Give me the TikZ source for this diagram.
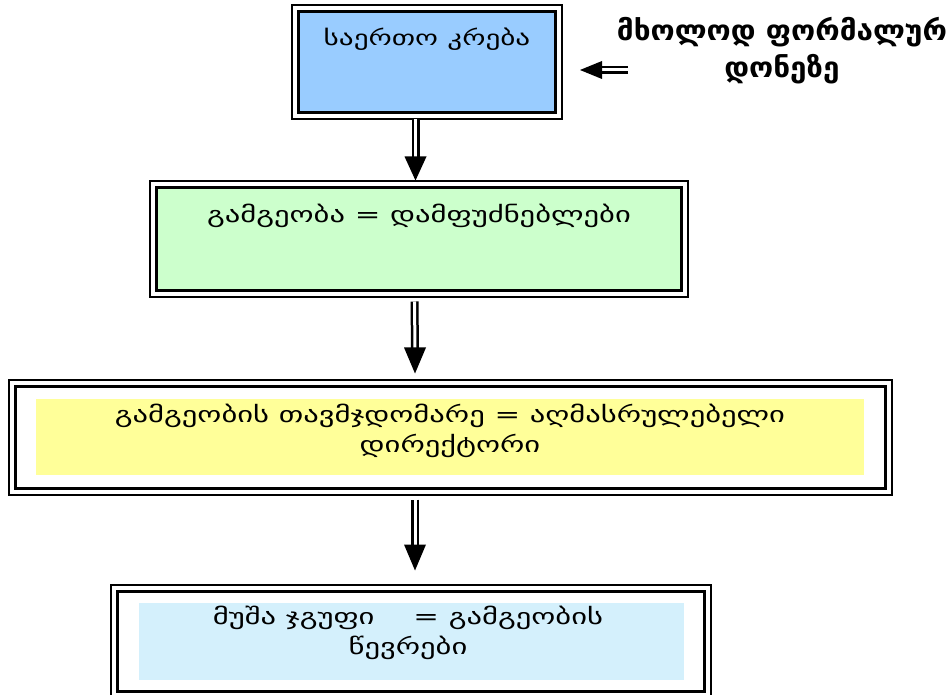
\documentclass[tikz,border=0pt]{standalone}
\usepackage{fontspec}
\setmainfont{DejaVu Sans}
\newfontfamily\geowide[FakeStretch=1.39]{DejaVu Sans}
\newfontfamily\geobold[FakeStretch=1.06]{DejaVu Sans}
\usetikzlibrary{calc}
\definecolor{bxblue}{HTML}{99CCFF}
\definecolor{bxgreen}{HTML}{CCFFCC}
\definecolor{bxyellow}{HTML}{FFFF99}
\definecolor{bxlight}{HTML}{D4F0FC}
\tikzset{
  inbox/.style={draw=black, line width=3pt, inner sep=0pt, minimum width=#1},
  outline/.style={draw=black, line width=2pt},
  txt/.style={font=\geowide\fontsize{22}{30}\selectfont, align=center, inner sep=0pt},
  rtxt/.style={font=\geobold\fontsize{28}{37}\selectfont\bfseries, align=center, inner sep=0pt},
  shaft/.style={draw=black, line width=2.5pt, double=white, double distance=3pt},
  headfill/.style={fill=black},
}
\begin{document}
\begin{tikzpicture}[x=1pt,y=-1pt]
\useasboundingbox (0,0) rectangle (946,695);
% box 1
\node[inbox=257pt, minimum height=101pt, fill=bxblue] (b1) at (426.5,62.5) {};
\draw[outline] ($(b1.north west)+(-5,-5)$) rectangle ($(b1.south east)+(5,5)$);
\node[txt, font=\geowide\fontsize{21}{30}\selectfont] (t1) at (427,39) {საერთო კრება};
% box 2
\node[inbox=525pt, minimum height=103pt, fill=bxgreen] (b2) at (418.5,239.5) {};
\draw[outline] ($(b2.north west)+(-5,-5)$) rectangle ($(b2.south east)+(5,5)$);
\node[txt] (t2) at (419,216) {გამგეობა = დამფუძნებლები};
% box 3
\node[inbox=870pt, minimum height=102pt, fill=white] (b3) at (450,437) {};
\draw[outline] ($(b3.north west)+(-5,-5)$) rectangle ($(b3.south east)+(5,5)$);
\fill[bxyellow] (36,399) rectangle (864,475);
\node[txt] (t3) at (450,431) {გამგეობის თავმჯდომარე = აღმასრულებელი\\დირექტორი};
% box 4
\node[inbox=587pt, minimum height=100pt, fill=white] (b4) at (410.5,641) {};
\draw[outline] ($(b4.north west)+(-5,-5)$) rectangle ($(b4.south east)+(5,5)$);
\fill[bxlight] (139,603) rectangle (684,680);
\node[txt] (t4) at (408,633) {მუშა ჯგუფი \ \ \ = გამგეობის\\წევრები};
% side note
\node[rtxt] (note) at (782,51) {მხოლოდ ფორმალურ\\დონეზე};
% arrows
\coordinate (a1s) at ($(b1.south)+(-11,5)$);
\coordinate (a1t) at ($(b2.north)+(-3,-6)$);
\draw[shaft] (a1s) -- ($(a1t)+(0,-22)$);
\fill[headfill] (a1t) -- ++(-11,-24) -- ++(22,0) -- cycle;
\coordinate (a2s) at ($(b2.south)+(-4,9)$);
\coordinate (a2t) at ($(b3.north)+(-35,-11)$);
\draw[shaft] (a2s) -- ($(a2t)+(0,-24)$);
\fill[headfill] (a2t) -- ++(-11,-26) -- ++(22,0) -- cycle;
\coordinate (a3s) at ($(b3.south)+(-35,10)$);
\coordinate (a3t) at ($(b4.north)+(4.5,-19)$);
\draw[shaft] (a3s) -- ($(a3t)+(0,-24)$);
\fill[headfill] (a3t) -- ++(-11,-26) -- ++(22,0) -- cycle;
\coordinate (a4s) at (628,70);
\coordinate (a4t) at (580,70);
\draw[shaft] (a4s) -- ($(a4t)+(20,0)$);
\fill[headfill] (a4t) -- ++(22,-9) -- ++(0,18) -- cycle;
\end{tikzpicture}
\end{document}
